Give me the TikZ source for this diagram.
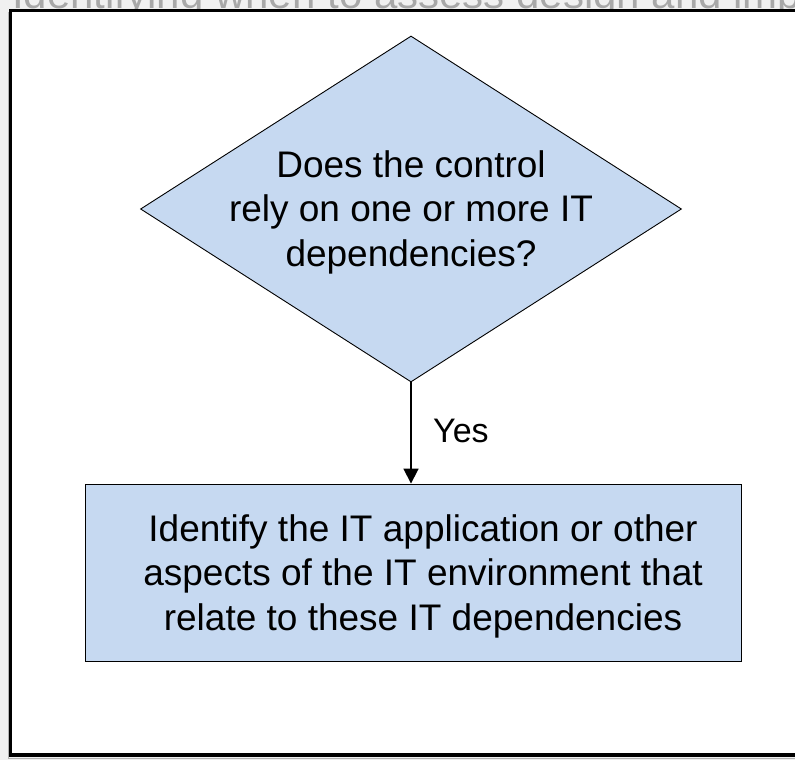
\documentclass[tikz,border=0pt]{standalone}
\usepackage{fontspec}
\setmainfont{Liberation Sans}
\usetikzlibrary{shapes.geometric,arrows.meta}
\definecolor{flowblue}{HTML}{C6D9F1}
\definecolor{pagegrey}{HTML}{F0F0F0}
\definecolor{titlegrey}{HTML}{A8A8A8}

\tikzset{
  flowshape/.style={draw=black, line width=0.9pt, fill=flowblue, inner sep=0pt},
  bodytext/.style={align=center, inner sep=0pt, font=\fontsize{37}{44.5}\selectfont},
  labeltext/.style={inner sep=0pt, font=\fontsize{34}{40}\selectfont},
  flowarrow/.style={line width=1.8pt, -{Triangle[length=15pt, width=15pt]}}
}

\begin{document}
\begin{tikzpicture}[x=1pt,y=-1pt]
\useasboundingbox (0,0) rectangle (795,760);
\fill[pagegrey] (0,0) rectangle (795,760);

% heading of the page, almost entirely hidden behind the frame
\begin{scope}
  \clip (0,0) rectangle (795,10);
  \node[anchor=base west, text=titlegrey, inner sep=0pt,
        font=\fontsize{42}{50}\selectfont] (heading) at (12,9)
        {Identifying when to assess design and implementation};
\end{scope}

% frame
\fill[white] (10.5,10.5) rectangle (800,755);
\draw[black!30, line width=1pt] (8,12) -- (8,758) -- (800,758);
\draw[line width=3.5pt] (800,10.5) -- (10.5,10.5) -- (10.5,755) -- (800,755);

% decision
\node[flowshape, diamond, minimum width=541pt, minimum height=346pt] (q) at (411,209) {};
\node[bodytext] (qtext) at (411,212) {Does the control\\rely on one or more IT\\dependencies?};

% action
\node[flowshape, rectangle, minimum width=656pt, minimum height=177pt] (act) at (413,572.5) {};
\node[bodytext] (acttext) at (423,576) {Identify the IT application or other\\aspects of the IT environment that\\relate to these IT dependencies};

% connector
\draw[flowarrow] (q.south) -- (q.south |- act.north);
\node[labeltext, anchor=base west] (yes) at (433,442) {Yes};
\end{tikzpicture}
\end{document}
